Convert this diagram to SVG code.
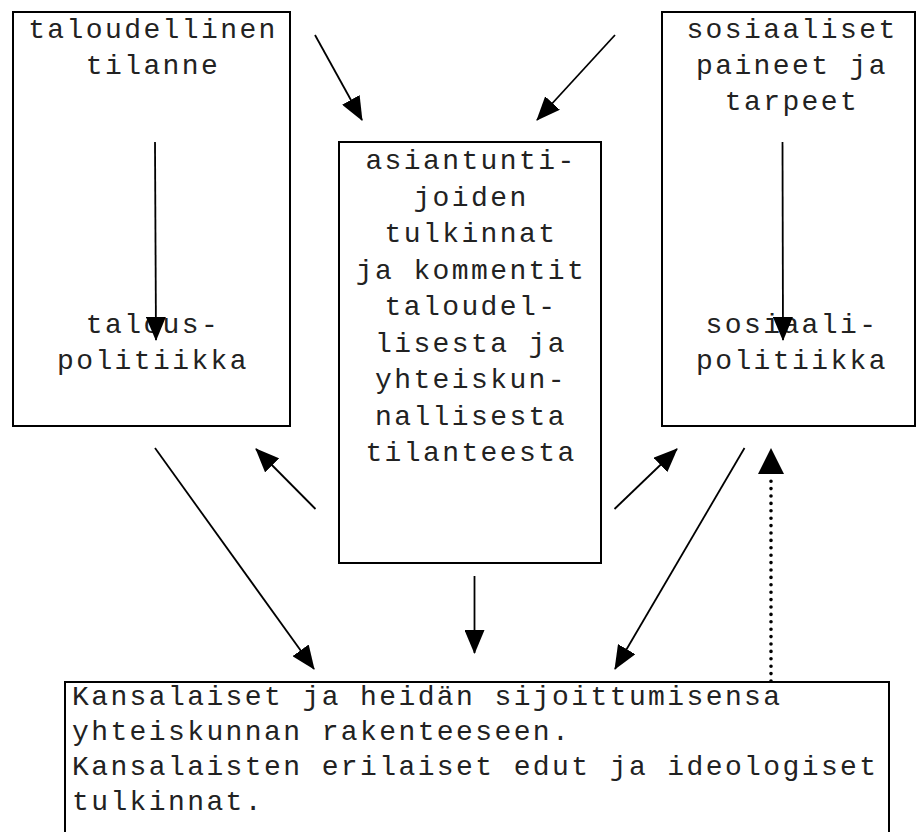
<svg xmlns="http://www.w3.org/2000/svg" width="916" height="832" viewBox="0 0 916 832">
<style>
.box{fill:#fff;stroke:#000;stroke-width:2}
.t{font-family:"Liberation Mono","Courier New",monospace;font-size:28px;letter-spacing:2.4px;fill:#222}
.c{text-anchor:middle}
.ln{stroke:#000;stroke-width:1.8;fill:none}
.dot{stroke:#000;stroke-width:3.6;fill:none;stroke-dasharray:0 7.4;stroke-linecap:round}
</style>
<defs>
<marker id="ah" markerUnits="userSpaceOnUse" markerWidth="24" markerHeight="20" refX="23" refY="10" orient="auto" viewBox="0 0 24 20">
<path d="M0,0 L24,10 L0,20 z" fill="#000"/>
</marker>
<marker id="ahb" markerUnits="userSpaceOnUse" markerWidth="26" markerHeight="26" refX="25" refY="13" orient="auto" viewBox="0 0 26 26">
<path d="M0,0 L26,13 L0,26 z" fill="#000"/>
</marker>
</defs>
<rect width="916" height="832" fill="#fff"/>
<g id="node-taloudellinen">
<rect class="box" x="13" y="12" width="277" height="414"/>
<text class="t c" x="153" y="38">taloudellinen</text>
<text class="t c" x="153" y="74">tilanne</text>
<text class="t c" x="153" y="333">talous-</text>
<text class="t c" x="153" y="369">politiikka</text>
</g>
<g id="node-sosiaaliset">
<rect class="box" x="662" y="12" width="253" height="414"/>
<text class="t c" x="792" y="38">sosiaaliset</text>
<text class="t c" x="792" y="74">paineet ja</text>
<text class="t c" x="792" y="110">tarpeet</text>
<text class="t c" x="792" y="333">sosiaali-</text>
<text class="t c" x="792" y="369">politiikka</text>
</g>
<g id="node-asiantuntijat">
<rect class="box" x="339" y="142" width="262" height="421"/>
<text class="t c" x="471" y="169">asiantunti-</text>
<text class="t c" x="471" y="205.5">joiden</text>
<text class="t c" x="471" y="242">tulkinnat</text>
<text class="t c" x="471" y="278.5">ja kommentit</text>
<text class="t c" x="471" y="315">taloudel-</text>
<text class="t c" x="471" y="351.5">lisesta ja</text>
<text class="t c" x="471" y="388">yhteiskun-</text>
<text class="t c" x="471" y="424.5">nallisesta</text>
<text class="t c" x="471" y="461">tilanteesta</text>
</g>
<g id="node-kansalaiset">
<rect class="box" x="65" y="682" width="824" height="170"/>
<text class="t" x="72" y="705">Kansalaiset ja heidän sijoittumisensa</text>
<text class="t" x="72" y="740">yhteiskunnan rakenteeseen.</text>
<text class="t" x="72" y="775">Kansalaisten erilaiset edut ja ideologiset</text>
<text class="t" x="72" y="810">tulkinnat.</text>
</g>
<g id="connectors">
<line class="ln" x1="155" y1="142" x2="156" y2="340" marker-end="url(#ah)"/>
<line class="ln" x1="782.5" y1="142" x2="783" y2="340" marker-end="url(#ah)"/>
<line class="ln" x1="315" y1="35" x2="362" y2="120" marker-end="url(#ah)"/>
<line class="ln" x1="615" y1="35" x2="537" y2="120" marker-end="url(#ah)"/>
<line class="ln" x1="315.5" y1="509" x2="256" y2="449" marker-end="url(#ah)"/>
<line class="ln" x1="614.5" y1="509" x2="677" y2="449" marker-end="url(#ah)"/>
<line class="ln" x1="155" y1="448" x2="314" y2="669" marker-end="url(#ah)"/>
<line class="ln" x1="744.5" y1="448" x2="615" y2="669" marker-end="url(#ah)"/>
<line class="ln" x1="474.5" y1="576" x2="474.5" y2="653" marker-end="url(#ah)"/>
<line class="dot" x1="771" y1="681" x2="771" y2="474"/>
<line class="ln" x1="771" y1="476" x2="771" y2="449" stroke-opacity="0" marker-end="url(#ahb)"/>
</g>
</svg>
